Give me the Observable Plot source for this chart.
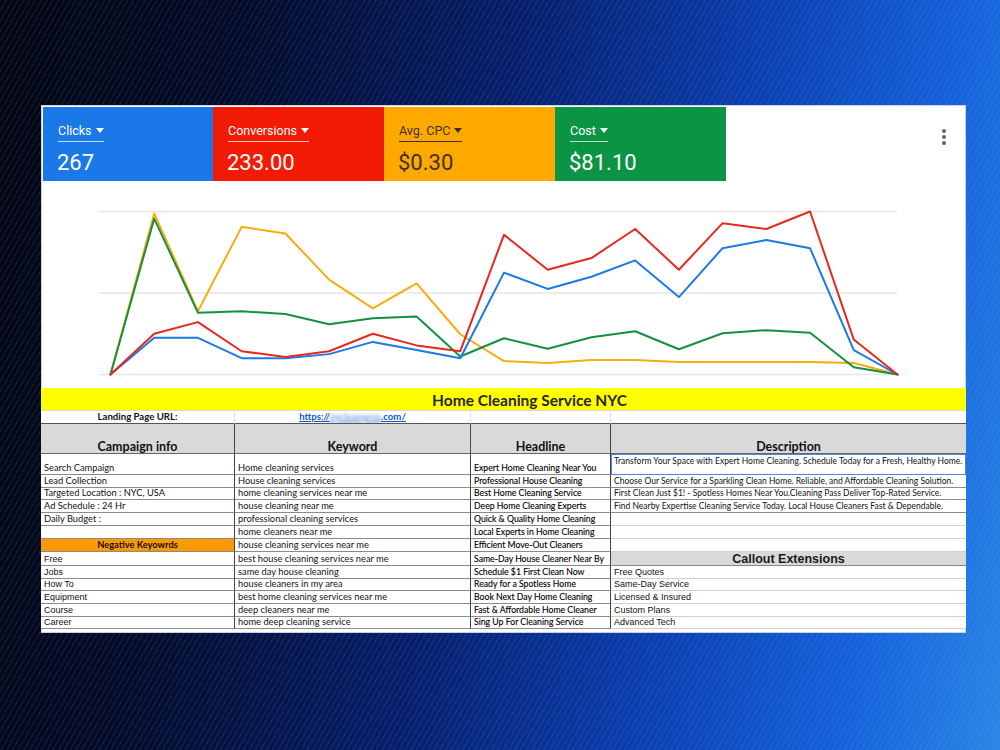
<!DOCTYPE html>
<html><head><meta charset="utf-8">
<script src="https://cdn.jsdelivr.net/npm/d3@7"></script>
<script src="https://cdn.jsdelivr.net/npm/@observablehq/plot@0.6"></script>
<style>
html,body{margin:0;padding:0;width:1000px;height:750px;overflow:hidden;}
body{position:relative;font-family:Roboto,"Liberation Sans",sans-serif;
 background:
  repeating-linear-gradient(120deg, rgba(120,170,255,0.10) 0 1.5px, rgba(0,0,0,0) 1.5px 5px),
  linear-gradient(100deg, #03060f 0%, #040b28 22%, #07206e 48%, #0b3fb0 68%, #1562dc 86%, #2a86e4 100%);}
#panel{position:absolute;left:41px;top:105px;width:925px;height:528px;background:#fff;border:1px solid #c9d2e3;box-sizing:border-box;}
.tile{position:absolute;top:107px;height:74px;color:#fff;}
.tile .lab{position:absolute;left:15px;top:16px;font-size:12.5px;line-height:15px;padding-bottom:3px;border-bottom:1px solid rgba(255,255,255,0.75);white-space:nowrap;}
.tile .tri{display:inline-block;width:0;height:0;border-left:4.5px solid transparent;border-right:4.5px solid transparent;border-top:5px solid currentColor;margin-left:4px;vertical-align:2px;}
.tile .val{position:absolute;left:14px;top:43px;font-size:22px;line-height:26px;}
#kebab{position:absolute;left:942px;top:129px;width:4px;}
#kebab i{display:block;width:4px;height:4px;border-radius:2px;background:#666;margin-bottom:2px;}
#chart{position:absolute;left:41px;top:190px;width:925px;height:195px;}
#chart svg{display:block;}
#sheet{position:absolute;left:41px;top:388px;width:925px;display:grid;
 grid-template-columns:194px 236px 140px 355px;
 grid-template-rows:23px 13px 30px 21px 13px 12px 13px 13px 13px 13px 14px 13px 12px 13px 13px 12px;
 font-family:Lato,"Noto Sans",sans-serif;font-size:9.3px;color:#111;background:#fff;}
#sheet .c{box-sizing:border-box;border-right:1px solid #444;border-bottom:1px solid #8a8a8a;display:flex;align-items:flex-end;padding:0 3px 1px 3px;white-space:nowrap;overflow:hidden;line-height:10px;}
#sheet .arial{font-family:"Liberation Sans",Arial,sans-serif;font-size:9px;}
#sheet .desc{font-size:8.5px;}
#sheet .title{grid-column:1/5;background:#ffff00;font-weight:700;font-size:15.5px;color:#262626;justify-content:center;align-items:center;padding:2px 0 0 52px;border-right:none;border-bottom:1px solid #d6d6d6;}
#sheet .url{border-right:1px solid #e3e3e3;border-bottom:1px solid #555;justify-content:center;font-weight:700;font-size:9.6px;}
#sheet .hdr{background:#d9d9d9;justify-content:center;font-weight:700;font-size:12.5px;padding-bottom:0;line-height:12px;border-bottom:1px solid #666;}
#sheet .neg{background:#ff9900;justify-content:center;font-weight:700;}
#sheet .call{background:#d9d9d9;justify-content:center;align-items:center;font-family:"Liberation Sans",Arial,sans-serif;font-weight:700;font-size:12.5px;line-height:14px;padding:0;overflow:visible;color:#1a1a1a;}
#sheet .hl{color:#000;-webkit-text-stroke:0.12px #000;font-size:8.7px;}
#sheet .sel{outline:1px solid #4a86e8;outline-offset:-1px;align-items:flex-start;padding-top:2px;}
#sheet .light{border-bottom:1px solid #d0d0d0;}
a.link{color:#1155cc;text-decoration:underline;}
a.link span.blur{filter:blur(1.6px);color:#7aa7e8;}
</style></head>
<body>
<div id="panel"></div>
<div id="tiles"></div>
<div id="kebab"><i></i><i></i><i></i></div>
<div id="chart"></div>
<div id="sheet"></div>
<script>
// ---- data ----
const days = ["D1","D2","D3","D4","D5","D6","D7","D8","D9","D10","D11","D12","D13","D14","D15","D16","D17","D18","D19"];
const clicks      = [0, 9, 9, 4, 4, 5, 8, 6, 4, 25, 21, 24, 28, 19, 31, 33, 31, 6, 0];
const conversions = [0, 7, 9, 4, 3, 4, 7, 5, 4, 24, 18, 20, 25, 18, 26, 25, 28, 6, 0];
const avgCpc      = [0, 1.68, 0.66, 1.54, 1.47, 0.99, 0.69, 0.95, 0.42, 0.14, 0.12, 0.15, 0.15, 0.13, 0.13, 0.13, 0.13, 0.12, 0];
const cost        = [0, 15.30, 6.05, 6.20, 5.94, 4.94, 5.53, 5.69, 1.77, 3.56, 2.52, 3.66, 4.25, 2.48, 4.05, 4.35, 4.09, 0.72, 0];
const seriesNames  = ["Clicks", "Conversions", "Avg. CPC", "Cost"];
const seriesTotals = ["267", "233.00", "$0.30", "$81.10"];
const seriesAxisTop = [40, 28, 1.70, 16];   // each metric has its own (hidden) axis
const tileColors = ["#1a78e8", "#f21a03", "#ffa800", "#0b9444"];
const tileText   = ["#ffffff", "#ffffff", "#3b3320", "#ffffff"];
const lineColors = ["#1a7ae8", "#e8281e", "#fbab0b", "#14913f"];

const titleText = "Home Cleaning Service NYC";
const urlLabel = "Landing Page URL:";
const headers = ["Campaign info", "Keyword", "Headline", "Description"];
const campaignInfo = ["Search Campaign", "Lead Collection", "Targeted Location : NYC, USA", "Ad Schedule : 24 Hr", "Daily Budget :", ""];
const negativeTitle = "Negative Keyowrds";
const negativeKeywords = ["Free", "Jobs", "How To", "Equipment", "Course", "Career"];
const keywords = ["Home cleaning services", "House cleaning services", "home cleaning services near me", "house cleaning near me",
  "professional cleaning services", "home cleaners near me", "house cleaning services near me", "best house cleaning services near me",
  "same day house cleaning", "house cleaners in my area", "best home cleaning services near me", "deep cleaners near me", "home deep cleaning service"];
const headlines = ["Expert Home Cleaning Near You", "Professional House Cleaning", "Best Home Cleaning Service", "Deep Home Cleaning Experts",
  "Quick & Quality Home Cleaning", "Local Experts in Home Cleaning", "Efficient Move-Out Cleaners", "Same-Day House Cleaner Near By",
  "Schedule $1 First Clean Now", "Ready for a Spotless Home", "Book Next Day Home Cleaning", "Fast & Affordable Home Cleaner", "Sing Up For Cleaning Service"];
const descriptions = ["Transform Your Space with Expert Home Cleaning. Schedule Today for a Fresh, Healthy Home.",
  "Choose Our Service for a Sparkling Clean Home. Reliable, and Affordable Cleaning Solution.",
  "First Clean Just $1! - Spotless Homes Near You.Cleaning Pass Deliver Top-Rated Service.",
  "Find Nearby Expertise Cleaning Service Today. Local House Cleaners Fast & Dependable."];
const calloutTitle = "Callout Extensions";
const callouts = ["Free Quotes", "Same-Day Service", "Licensed & Insured", "Custom Plans", "Advanced Tech"];

// ---- tiles ----
const tileLeft = [43, 213, 384, 555];
const tileW = [170, 171, 171, 171];
const tiles = document.getElementById("tiles");
seriesNames.forEach((n, i) => {
  const t = document.createElement("div");
  t.className = "tile";
  t.style.left = tileLeft[i] + "px"; t.style.width = tileW[i] + "px";
  t.style.background = tileColors[i]; t.style.color = tileText[i];
  t.innerHTML = `<div class="lab" style="border-bottom-color:${i===2?'#3b3320':'rgba(255,255,255,0.75)'}">${n}<span class="tri"></span></div><div class="val">${seriesTotals[i]}</div>`;
  tiles.appendChild(t);
});

// ---- chart ----
const metric = [clicks, conversions, avgCpc, cost];
const rows = [];
seriesNames.forEach((n, s) => days.forEach((d, i) => rows.push({day: d, series: n, value: metric[s][i], top: seriesAxisTop[s]})));
const drawOrder = ["Avg. CPC", "Cost", "Clicks", "Conversions"];
rows.sort((a, b) => drawOrder.indexOf(a.series) - drawOrder.indexOf(b.series));
const chart = Plot.plot({
  width: 925, height: 195,
  marginLeft: 58, marginRight: 69, marginTop: 21, marginBottom: 11,
  x: {type: "point", domain: days, padding: 0, round: false, range: [69, 856], axis: null},
  y: {domain: [0, 1], range: [184, 21], axis: null},
  color: {domain: seriesNames, range: lineColors},
  style: {background: "transparent", maxWidth: "none"},
  marks: [
    Plot.ruleY([0, 0.5, 1], {stroke: "#e6e6e6", strokeWidth: 1.6}),
    Plot.line(rows, {x: "day", y: d => d.value / d.top, z: "series", stroke: "series", strokeWidth: 2})
  ]
});
document.getElementById("chart").appendChild(chart);

// ---- sheet ----
const sheet = document.getElementById("sheet");
function cell(html, cls, style) {
  const c = document.createElement("div");
  c.className = "c " + (cls || "");
  if (style) c.setAttribute("style", style);
  c.innerHTML = html;
  sheet.appendChild(c);
  return c;
}
cell(titleText, "title");
cell(urlLabel, "url");
cell(`<a class="link">https://<span class="blur">nycleanpros</span>.com/</a>`, "url");
cell("", "url", "border-bottom:1px solid #555");
cell("", "url", "border-right:none;border-bottom:1px solid #555");
headers.forEach((h, i) => cell(h, "hdr", i === 3 ? "border-right:none" : ""));
for (let r = 0; r < 13; r++) {
  if (r < 6) cell(campaignInfo[r]);
  else if (r === 6) cell(negativeTitle, "neg");
  else cell(negativeKeywords[r - 7], "arial");
  cell(keywords[r]);
  cell(headlines[r], "hl");
  if (r < 4) cell(descriptions[r], "desc" + (r === 0 ? " sel" : ""), "border-right:none");
  else if (r < 7) cell("", "light", "border-right:none");
  else if (r === 7) cell(calloutTitle, "call", "border-right:none");
  else cell(callouts[r - 8], "arial light", "border-right:none");
}
</script>
</body></html>
